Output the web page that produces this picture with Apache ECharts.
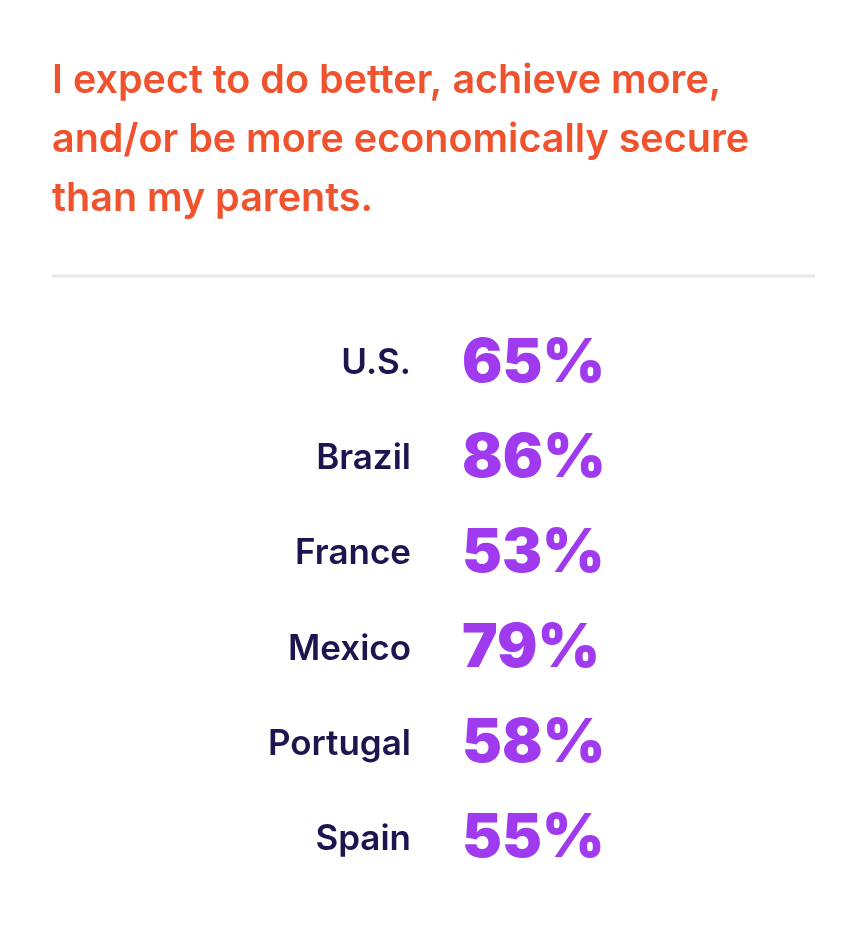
<!DOCTYPE html>
<html>
<head>
<meta charset="utf-8">
<script src="https://cdn.jsdelivr.net/npm/echarts@6/dist/echarts.min.js"></script>
<style>
  html, body { margin: 0; padding: 0; background: #fff; }
  #main { width: 867px; height: 942px; }
</style>
</head>
<body>
<div id="main"></div>
<script type="text/javascript">
  var titleText = 'I expect to do better, achieve more,\nand/or be more economically secure\nthan my parents.';
  var countries = ['U.S.', 'Brazil', 'France', 'Mexico', 'Portugal', 'Spain'];
  var shares = [65, 86, 53, 79, 58, 55];

  var myChart = echarts.init(document.getElementById('main'));

  // one point per country, the value is only shown as a label
  var points = [];
  for (var i = 0; i < countries.length; i++) {
    points.push([0, countries[i], shares[i]]);
  }

  var option = {
    backgroundColor: '#ffffff',
    animation: false,
    title: {
      text: titleText,
      left: 52,
      top: 52,
      padding: 0,
      textStyle: {
        color: '#F0522D',
        fontFamily: 'Inter',
        fontWeight: 600,
        fontSize: 39.5,
        lineHeight: 59
      }
    },
    graphic: [{
      type: 'line',
      shape: { x1: 52, y1: 276, x2: 815, y2: 276 },
      style: { stroke: '#E8E8E8', lineWidth: 3 }
    }],
    grid: { left: 440, right: 60, top: 316, bottom: 55 },
    xAxis: {
      type: 'value',
      min: 0,
      max: 1,
      show: false
    },
    yAxis: {
      type: 'category',
      data: countries,
      inverse: true,
      axisLine: { show: false },
      axisTick: { show: false },
      splitLine: { show: false },
      axisLabel: {
        margin: 29,
        color: '#1E1450',
        fontFamily: 'Inter',
        fontWeight: 600,
        fontSize: 35
      }
    },
    series: [{
      type: 'scatter',
      data: points,
      symbolSize: 0,
      // scatter defaults to 0.8 opacity, which also fades the labels
      itemStyle: { opacity: 1 },
      label: {
        show: true,
        position: 'right',
        distance: 22,
        color: '#A03AEE',
        fontFamily: 'Inter',
        fontWeight: 900,
        fontSize: 60,
        formatter: function (p) { return p.value[2] + '%'; }
      }
    }]
  };

  myChart.setOption(option);
</script>
</body>
</html>
